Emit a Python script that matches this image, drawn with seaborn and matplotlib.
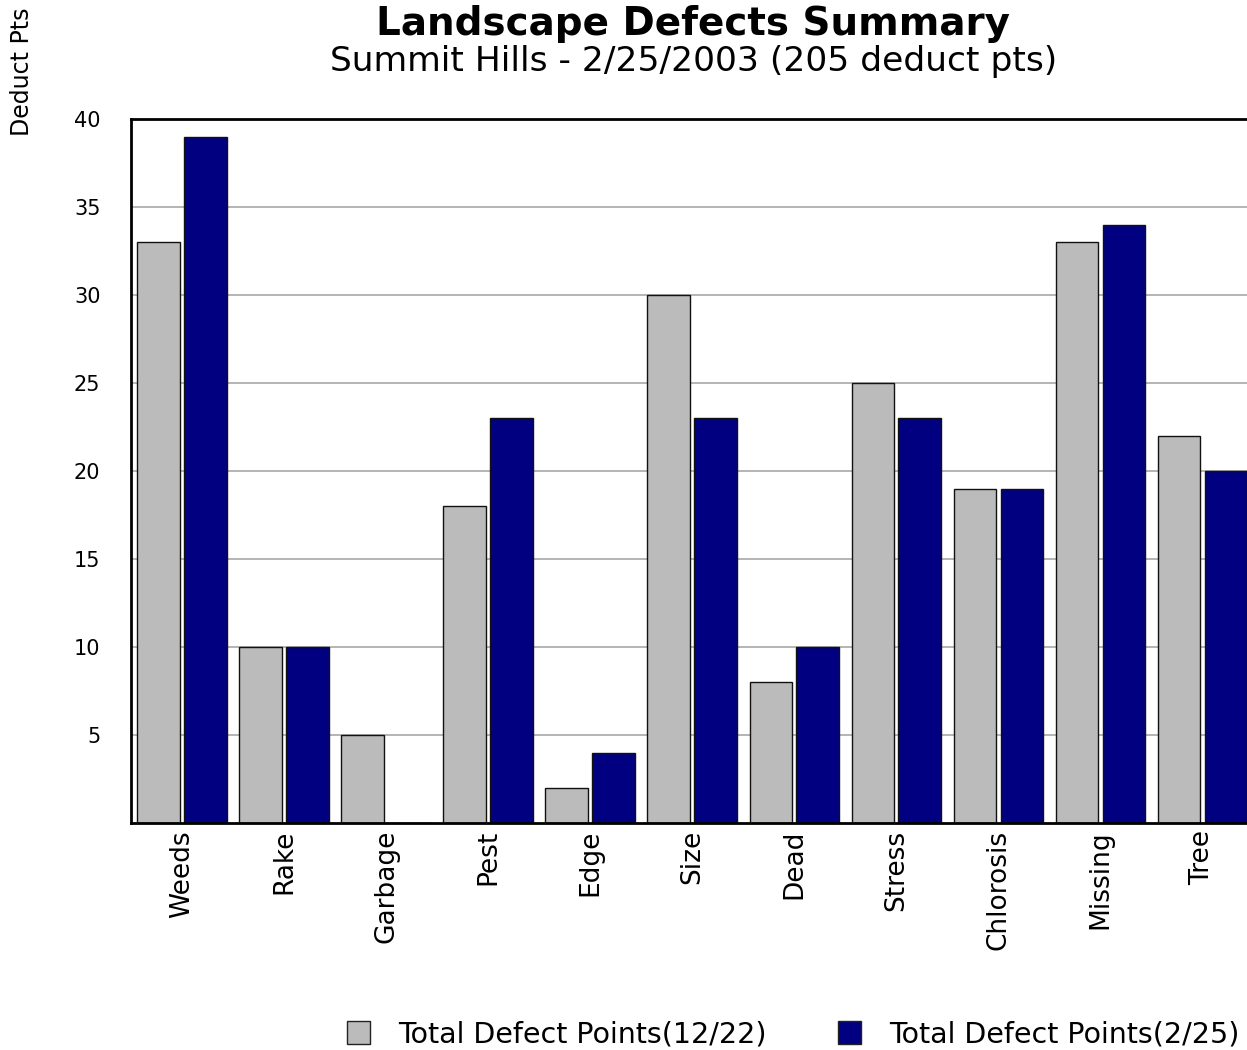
import pandas as pd
import seaborn as sns
import matplotlib.pyplot as plt
from matplotlib.patches import Patch

categories = ['Weeds', 'Rake', 'Garbage', 'Pest', 'Edge', 'Size', 'Dead',
              'Stress', 'Chlorosis', 'Missing', 'Tree']
pts_1222 = [33, 10, 5, 18, 2, 30, 8, 25, 19, 33, 22]
pts_225 = [39, 10, 0, 23, 4, 23, 10, 23, 19, 34, 20]
series_names = ['Total Defect Points(12/22)', 'Total Defect Points(2/25)']
y_ticks = [5, 10, 15, 20, 25, 30, 35, 40]

df = pd.DataFrame({
    'category': categories * 2,
    'value': pts_1222 + pts_225,
    'series': [series_names[0]] * len(categories) + [series_names[1]] * len(categories),
})

sns.set_style('white')
plt.rcParams['font.family'] = ['DejaVu Sans']
plt.rcParams['text.color'] = 'black'
plt.rcParams['xtick.color'] = 'black'
plt.rcParams['ytick.color'] = 'black'

colors = {series_names[0]: '#BBBBBB', series_names[1]: '#000080'}

fig = plt.figure(figsize=(12.47, 10.5), dpi=100)
ax = fig.add_axes([0.105, 0.2162, 0.9, 0.6705])

sns.barplot(data=df, x='category', y='value', hue='series', palette=colors,
            saturation=1, width=0.92, gap=0.1, dodge=True, edgecolor='#111111',
            linewidth=1.0, legend=False, ax=ax)

ax.set_ylim(0, 40)
ax.set_xlim(-0.5, len(categories) - 0.5)
ax.set_yticks(y_ticks)
ax.yaxis.grid(True, color='#A8A8A8', linewidth=1.2)
ax.set_axisbelow(True)
for s in ['left', 'bottom', 'top']:
    ax.spines[s].set_color('black')
    ax.spines[s].set_linewidth(2)
ax.spines['right'].set_visible(False)

ax.set_xlabel('')
ax.set_ylabel('')
ax.tick_params(axis='x', labelrotation=90, labelsize=19, length=0, pad=5)
ax.tick_params(axis='y', labelsize=15, length=0, pad=22)

fig.text(0.556, 0.977, 'Landscape Defects Summary', ha='center', va='center',
         fontsize=28, fontweight='bold')
fig.text(0.556, 0.941, 'Summit Hills - 2/25/2003 (205 deduct pts)', ha='center',
         va='center', fontsize=24.8)
fig.text(0.018, 0.993, 'Deduct Pts', rotation=90, ha='center', va='top', fontsize=17)

handles = [Patch(facecolor=colors[n], edgecolor='#222222', label=n) for n in series_names]
fig.legend(handles=handles, loc='center', bbox_to_anchor=(0.636, 0.015), ncol=2,
           frameon=False, fontsize=20.5, handlelength=0.8, handleheight=0.9,
           columnspacing=2.5, handletextpad=1.0)

plt.savefig('out.png', dpi=100)
